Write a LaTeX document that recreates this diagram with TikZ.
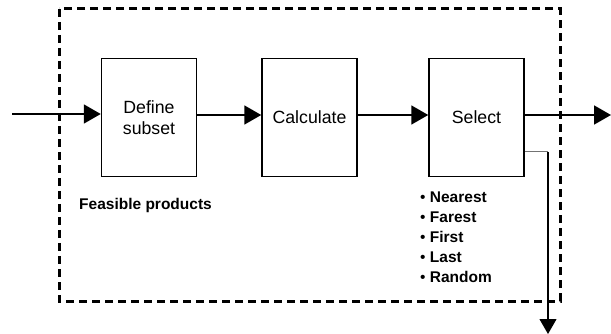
\documentclass[tikz,border=0pt]{standalone}
\usepackage{fontspec}
\setmainfont{Liberation Sans}
\usetikzlibrary{arrows.meta}

\tikzset{
  stage/.style={draw, line width=1.5pt, minimum width=95pt, minimum height=118pt,
                inner sep=0pt, align=center, font=\fontsize{17.7}{21.5}\selectfont},
  flow/.style={line width=1.8pt, -{Triangle[length=17pt,width=19pt]}},
  branch/.style={line width=1.1pt, -{Triangle[length=15pt,width=17pt]}},
  frame/.style={line width=3pt, dash pattern=on 8pt off 5pt},
  note/.style={inner sep=0pt, anchor=base west, font=\fontsize{15.5}{20}\selectfont\bfseries}
}

\begin{document}
\begin{tikzpicture}[x=1pt,y=-1pt]
  \useasboundingbox (0,0) rectangle (611,334);

  % dashed system boundary
  \draw[frame] (59,9) rectangle (560,301);

  % processing stages
  \node[stage] (b1) at (149,117.5) {Define\\subset};
  \node[stage] (b2) at (309.5,117.5) {Calculate};
  \node[stage] (b3) at (476.5,117.5) {Select};

  % free ends
  \coordinate (in)     at (12,114);
  \coordinate (out)    at (611,115);
  \coordinate (corner) at (548,152);
  \coordinate (drop)   at (548,334);

  % main flow
  \draw[flow] (in) -- (in -| b1.west);
  \draw[flow] ([yshift=2.5pt]b1.east) -- ([yshift=2.5pt]b2.west);
  \draw[flow] ([yshift=2.5pt]b2.east) -- ([yshift=2.5pt]b3.west);
  \draw[flow] (out -| b3.east) -- (out);

  % side output
  \draw[line width=1pt, draw=black!55] (corner -| b3.east) -- (corner);
  \draw[branch] (corner) -- (drop);

  % annotations
  \node[note] (fp) at (79,209.5) {Feasible products};
  \foreach \t [count=\i] in {Nearest,Farest,First,Last,Random}
    \node[note] (opt\i) at (420,182.5+20*\i) {{\mdseries\textbullet}\ \t};
\end{tikzpicture}
\end{document}
